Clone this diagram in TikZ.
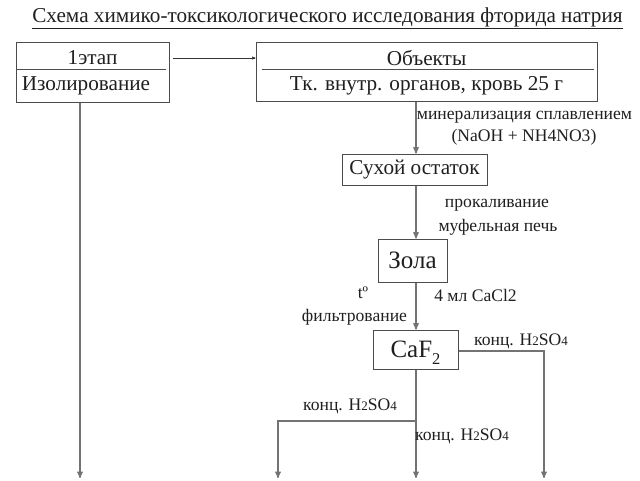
\documentclass[tikz,border=0pt]{standalone}
\usepackage{fontspec}
\setmainfont{Liberation Serif}
\usetikzlibrary{positioning}
\usetikzlibrary{arrows}
\usetikzlibrary{calc}
\tikzset{box/.style={draw=black!70,line width=1pt,inner sep=0pt}}
\tikzset{txt/.style={inner sep=0pt,text=black!88,font=\fontsize{21.2}{23}\selectfont}}
\tikzset{big/.style={txt,font=\fontsize{25}{28}\selectfont}}
\tikzset{ed/.style={inner sep=0pt,text=black!88,font=\fontsize{17.6}{19}\selectfont}}
\tikzset{ln/.style={draw=black!55,line width=1.3pt}}
\tikzset{>=stealth'}
\newcommand{\hsfour}{H{\fontsize{13}{14}\selectfont 2}SO{\fontsize{13}{14}\selectfont 4}}

\begin{document}
\begin{tikzpicture}[x=1pt,y=-1pt]
        \useasboundingbox (0,0) rectangle (640,480);

        \node[txt] (title) at (327.5,18) {\underline{Схема химико-токсикологического исследования фторида натрия}};

        % first row
        \node[box,minimum width=153pt,minimum height=60pt] (stage) at (92.5,72) {};
        \node[txt] (stage1) at (92.5,58) {1этап};
        \node[txt] (stage2) at (86,86) {Изолирование};
        \draw[box] ($(stage.west)+(0,-3)$) -- ($(stage.east)+(-4,-3)$);

        \node[box,minimum width=341pt,minimum height=59pt] (obj) at (426.5,71.5) {};
        \node[txt] (obj1) at (426.5,58) {Объекты};
        \node[txt] (obj2) at (426.5,86) {Тк. внутр. органов, кровь 25 г};
        \draw[box] ($(obj.west)+(6,-2.5)$) -- ($(obj.east)+(-4,-2.5)$);

        \draw[black!80,->] ($(stage.east |- obj1)+(3,0)$) -- (obj.west |- obj1);

        % middle column
        \node[box,minimum width=145pt,minimum height=31pt,txt] (dry) at (414.5,169.5) {Сухой остаток};
        \node[box,minimum width=69pt,minimum height=43pt,big] (ash) at (412.5,260.5) {Зола};
        \node[box,minimum width=85pt,minimum height=39pt,big] (caf) at (415.5,349.5) {CaF\raisebox{-7pt}[0pt][0pt]{\fontsize{16.5}{18}\selectfont 2}};

        \coordinate (e1) at (80,478);
        \coordinate (e2) at (278,478);
        \coordinate (e3) at (416,478);
        \coordinate (e4) at (544,478);
        \coordinate (fork) at (416,421);

        \draw[ln,->] (stage.south -| e1) -- (e1);
        \draw[ln,->] (obj.south -| e3) -- (dry.north -| e3);
        \draw[ln,->] (dry.south -| e3) -- (ash.north -| e3);
        \draw[ln,->] (ash.south -| e3) -- (caf.north -| e3);
        \draw[ln,->] (caf.south -| e3) -- (e3);
        \draw[ln,->] (fork) -| (e2);
        \draw[ln,->] ($(caf.east)+(0,1.5)$) -| (e4);

        % reagents
        \node[ed] (min1) at (524.5,117) {минерализация сплавлением};
        \node[ed] (min2) at (524,137) {(NaOH + NH4NO3)};
        \node[ed] (fire1) at (497,205) {прокаливание};
        \node[ed] (fire2) at (498,227) {муфельная печь};
        \node[ed] (temp) at (363,293) {tº};
        \node[ed] (filt) at (354.5,317) {фильтрование};
        \node[ed] (cacl) at (475.5,295) {4 мл CaCl2};
        \node[ed] (acid1) at (521,341) {конц. \hsfour};
        \node[ed] (acid2) at (350,406) {конц. \hsfour};
        \node[ed] (acid3) at (462,436) {конц. \hsfour};
\end{tikzpicture}
\end{document}
